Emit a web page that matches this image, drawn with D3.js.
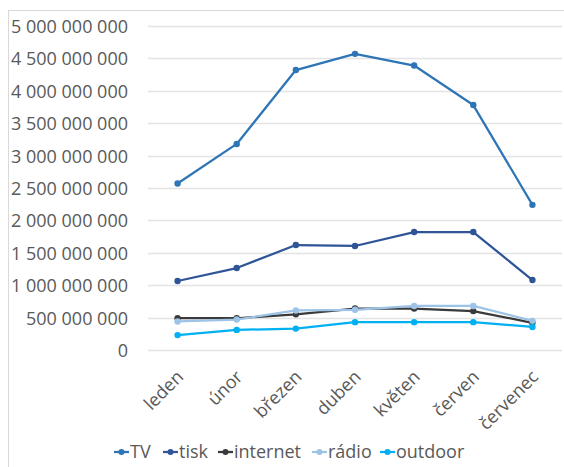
<!DOCTYPE html>
<meta charset="utf-8">
<style>
  body { margin: 0; background: #fff; font-family: "Open Sans", sans-serif; }
  .axis text { fill: #595959; font-size: 18px; font-family: "Open Sans", sans-serif; }
  .grid line { stroke: #e3e3e3; stroke-width: 1.3; }
  .legend text { fill: #595959; font-size: 18px; font-family: "Open Sans", sans-serif; }
</style>
<body></body>
<script src="https://cdn.jsdelivr.net/npm/d3@7"></script>
<script>

var months = ["leden", "únor", "březen", "duben", "květen", "červen", "červenec"];
var yTicks = [0, 5e8, 1e9, 1.5e9, 2e9, 2.5e9, 3e9, 3.5e9, 4e9, 4.5e9, 5e9];

var tv       = [2.57e9, 3.18e9, 4.32e9, 4.57e9, 4.39e9, 3.78e9, 2.24e9];
var tisk     = [1.065e9, 1.265e9, 1.62e9, 1.605e9, 1.82e9, 1.82e9, 1.08e9];
var internet = [0.49e9, 0.49e9, 0.55e9, 0.64e9, 0.64e9, 0.60e9, 0.42e9];
var radio    = [0.44e9, 0.47e9, 0.61e9, 0.62e9, 0.68e9, 0.68e9, 0.45e9];
var outdoor  = [0.23e9, 0.31e9, 0.33e9, 0.43e9, 0.43e9, 0.43e9, 0.355e9];

var series = [
  {name: "TV", values: tv, color: "#2e75b6"},
  {name: "tisk", values: tisk, color: "#2f5597"},
  {name: "internet", values: internet, color: "#3a3a3a"},
  {name: "rádio", values: radio, color: "#9dc3e6"},
  {name: "outdoor", values: outdoor, color: "#00b0f0"}
];

var W = 564, H = 467;
var m = {left: 148, right: 562, top: 26, bottom: 350};

var svg = d3.select("body").append("svg")
    .attr("width", W)
    .attr("height", H);

// chart border
svg.append("rect")
    .attr("x", 8.5).attr("y", 10.5)
    .attr("width", 600).attr("height", 500)
    .attr("fill", "none")
    .attr("stroke", "#d9d9d9");

var x = d3.scaleBand().domain(months).range([m.left, m.right]);
var y = d3.scaleLinear().domain([0, 5e9]).range([m.bottom, m.top]);

var fmt = function(d) { return d3.format(",")(d).replace(/,/g, " "); };

svg.append("g").attr("class", "grid")
  .selectAll("line")
  .data(yTicks)
  .enter().append("line")
    .attr("x1", m.left).attr("x2", m.right)
    .attr("y1", function(d) { return Math.round(y(d)) + 0.5; })
    .attr("y2", function(d) { return Math.round(y(d)) + 0.5; });

var yAxis = svg.append("g")
    .attr("class", "axis")
    .attr("transform", "translate(" + (m.left - 20) + ",0)")
    .call(d3.axisLeft(y).tickValues(yTicks).tickFormat(fmt).tickSize(0).tickPadding(0));
yAxis.select(".domain").remove();
yAxis.selectAll("text").attr("dy", "0.36em");

var xAxis = svg.append("g")
    .attr("class", "axis")
    .attr("transform", "translate(0," + m.bottom + ")")
    .call(d3.axisBottom(x).tickSize(0));
xAxis.select(".domain").remove();
xAxis.selectAll("text")
    .attr("text-anchor", "end")
    .attr("x", 0).attr("y", 0).attr("dy", 0)
    .attr("transform", "translate(7,28) rotate(-45)");

var line = d3.line()
    .x(function(d, i) { return x(months[i]) + x.bandwidth() / 2; })
    .y(function(d) { return y(d); });

var g = svg.selectAll("g.series")
    .data(series)
    .enter().append("g")
    .attr("class", "series");

g.append("path")
    .attr("d", function(d) { return line(d.values); })
    .attr("fill", "none")
    .attr("stroke", function(d) { return d.color; })
    .attr("stroke-width", 2.25)
    .attr("stroke-linejoin", "round");

g.selectAll("circle")
    .data(function(d) { return d.values.map(function(v, i) { return {v: v, i: i, c: d.color}; }); })
    .enter().append("circle")
    .attr("cx", function(d) { return x(months[d.i]) + x.bandwidth() / 2; })
    .attr("cy", function(d) { return y(d.v); })
    .attr("r", 3.2)
    .attr("fill", function(d) { return d.c; });

// legend
var legendX = [114, 163, 218, 312, 380];
var leg = svg.append("g").attr("class", "legend")
  .selectAll("g")
  .data(series)
  .enter().append("g")
  .attr("transform", function(d, i) { return "translate(" + legendX[i] + ",452)"; });

leg.append("line")
    .attr("x1", 0).attr("x2", 15)
    .attr("stroke", function(d) { return d.color; })
    .attr("stroke-width", 2.25);
leg.append("circle")
    .attr("cx", 7.5).attr("r", 3)
    .attr("fill", function(d) { return d.color; });
leg.append("text")
    .attr("x", 16)
    .attr("dy", "0.36em")
    .text(function(d) { return d.name; });

</script>
